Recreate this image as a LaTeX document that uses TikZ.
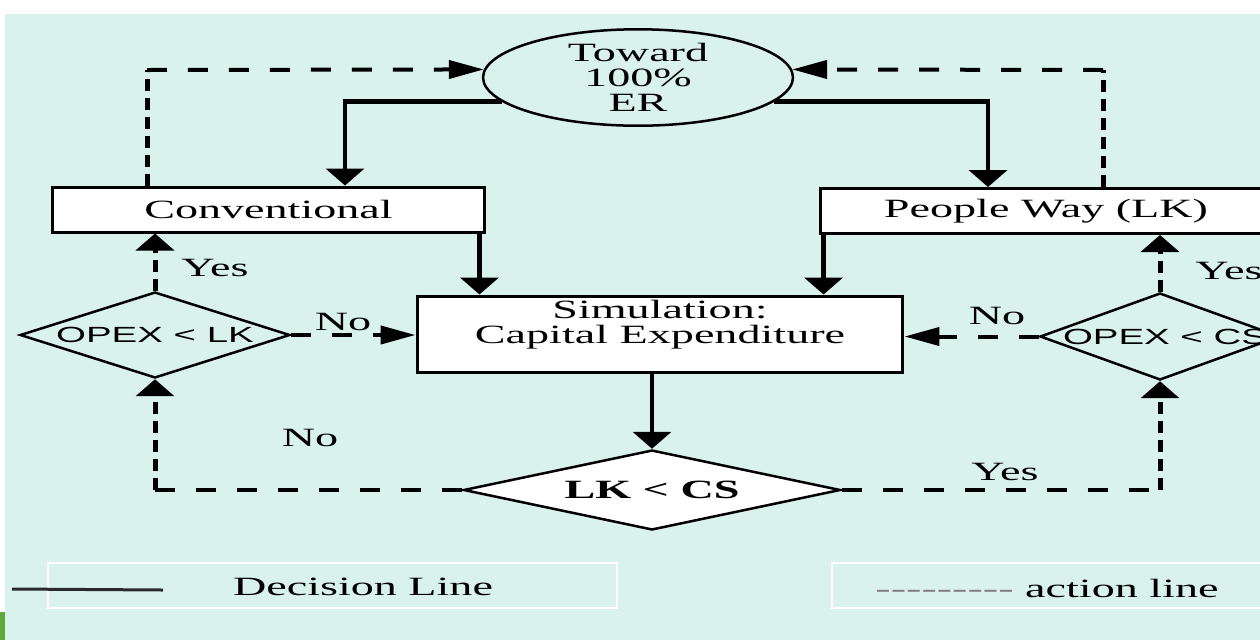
\documentclass[tikz,border=0pt]{standalone}
\usepackage{fontspec}
\usepackage{graphicx}
\setmainfont{Liberation Serif}
\newfontfamily\opexfont{Liberation Sans}
\usetikzlibrary{arrows.meta,positioning,calc,shapes.geometric}
\definecolor{Mint}{HTML}{D9F2EC}
\definecolor{Leaf}{HTML}{5FA83A}
\definecolor{Ink}{HTML}{2A2A2A}
\colorlet{flowBg}{Mint}
\colorlet{flowInk}{Ink}
\newcommand{\wide}[1]{\scalebox{1.75}[1]{#1}}
\newcommand{\hy}{-\kern0pt}

\begin{document}
\begin{tikzpicture}[x=0.02cm,y=-0.02cm,
 font=\fontsize{15}{14.2}\selectfont,
 box/.style={draw=black,fill=white,line width=0.06cm,inner sep=0pt,align=center},
 dia/.style={diamond,draw=black,line width=0.05cm,inner sep=0pt},
 opex/.style={dia,font=\opexfont\fontsize{12.5}{14}\selectfont},
 dline/.style={line width=0.09cm},
 hdash/.style={line width=0.08cm,dash pattern=on 0.4cm off 0.42cm},
 vdash/.style={line width=0.1cm,dash pattern=on 0.24cm off 0.14cm},
 harr/.style={-{Triangle[length=0.7cm,width=0.36cm]}},
 varr/.style={-{Triangle[length=0.34cm,width=0.76cm]}},
 lbl/.style={inner sep=0pt},
 legline/.style={draw=white,line width=0.04cm}]
 \useasboundingbox (0,0) rectangle (1260,640);
 \clip (0,0) rectangle (1260,640);
 \fill[white] (0,0) rectangle (1260,640);
 \fill[flowBg] (5,14) rectangle (1260,640);
 \fill[Leaf] (0,612) rectangle (5,640);

 \node[ellipse,draw=black,line width=0.05cm,inner sep=0pt,align=center,
   minimum width=6.2cm,minimum height=1.9cm] (toward) at (638,77.5)
   {\wide{Toward}\\\wide{100\%}\\\wide{ER}};
 \node[box,minimum width=8.66cm,minimum height=0.9cm] (conv) at (268.5,209.5) {\wide{Conventional}};
 \node[box,minimum width=9.04cm,minimum height=0.9cm] (people) at (1046,211) {\wide{People Way (LK)}};
 \node[box,minimum width=9.72cm,minimum height=1.52cm] (sim) at (660,334)
   {\wide{Simulation:}\\\wide{Capital Expenditure}\\\mbox{}};
 \node[dia,fill=white,minimum width=7.54cm,minimum height=1.6cm] (lkcs) at (652,490)
   {\makebox[0pt]{\bfseries\wide{LK < CS}}};
 \node[opex,minimum width=5.4cm,minimum height=1.72cm] (opexlk) at (155,335)
   {\makebox[0pt]{\wide{OPEX < LK}}};
 \node[opex,minimum width=4.8cm,minimum height=1.74cm] (opexcs) at (1160,336.5)
   {\makebox[0pt]{\hspace{0.2cm}\wide{OPEX < CS}}};

 \coordinate (tl) at (147,70);
 \coordinate (tr) at (1103,70);
 \coordinate (cs) at ([xshift=-0.14cm]conv.south east);
 \coordinate (ps) at ([xshift=0.1cm]people.south west);
 \coordinate (bl) at (opexlk.south |- lkcs.west);
 \coordinate (br) at (opexcs.south |- lkcs.east);

 \draw[dline,varr] (toward.190) -| ([xshift=1.53cm]conv.north);
 \draw[dline,varr] (toward.-10) -| ([xshift=-1.16cm]people.north);
 \draw[dline,varr] (cs) -- (cs |- sim.north);
 \draw[dline,varr] (ps) -- (ps |- sim.north);
 \draw[dline,varr] (sim.south -| lkcs.north) -- (lkcs.north);
 \draw[vdash] (tl |- conv.north) -- (tl);
 \draw[hdash,harr] (tl) -- (toward.177);
 \draw[vdash] (tr |- people.north) -- (tr);
 \draw[hdash,harr] (tr) -- (toward.3);
 \draw[vdash,varr] (opexlk.north) -- (opexlk.north |- conv.south);
 \draw[hdash,harr] (opexlk.east) -- (opexlk.east -| sim.west);
 \draw[hdash,harr] (opexcs.west) -- (opexcs.west -| sim.east);
 \draw[vdash,varr] (opexcs.north) -- (opexcs.north |- people.south);
 \draw[hdash] (lkcs.west) -- (bl);
 \draw[vdash,varr] (bl) -- (opexlk.south);
 \draw[hdash] (lkcs.east) -- (br);
 \draw[vdash,varr] (br) -- (opexcs.south);

 \node[lbl] (yesl) at (215,268) {\wide{Yes}};
 \node[lbl] (nol) at (343,322) {\wide{No}};
 \node[lbl] (nob) at (310,438) {\wide{No}};
 \node[lbl] (nor) at (997,316) {\wide{No}};
 \node[lbl] (yesb) at (1005,472) {\wide{Yes}};
 \node[lbl,anchor=west] (yesr) at (1195,271) {\wide{Yes}};

 \draw[legline] (48,563) rectangle (617,608);
 \draw[legline] (832,563) rectangle (1290,608);
 \draw[flowInk,line width=0.06cm] (12,589) -- (163,590);
 \node[lbl] (dtxt) at (363,587) {\wide{Decision Line}};
 \node[lbl] (atxt) at (1047,588) {\wide{{\color{gray}\hy\hy\hy\hy\hy\hy\hy\hy\hy} action line}};
\end{tikzpicture}
\end{document}
